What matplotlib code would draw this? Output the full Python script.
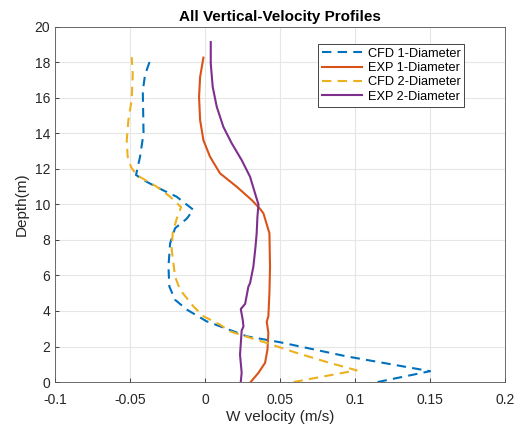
import matplotlib
matplotlib.use("Agg")
import matplotlib.pyplot as plt
import numpy as np

plt.rcParams["font.family"] = ["Liberation Sans", "DejaVu Sans"]

# CFD profiles (velocity, depth)
cfd1_w = [0.115, 0.150, 0.094, 0.050, 0.028, 0.001, -0.012, -0.020, -0.0238, -0.0244,
          -0.0233, -0.020, -0.0122, -0.0078, -0.019, -0.028, -0.039, -0.046, -0.0433,
          -0.041, -0.0415, -0.040, -0.0367]
cfd1_z = [0.0, 0.61, 1.45, 2.24, 2.57, 3.42, 4.07, 4.63, 5.38, 6.5,
          7.8, 8.66, 9.2, 9.7, 10.44, 10.8, 11.28, 11.66, 12.7,
          14.0, 16.4, 17.3, 18.1]

cfd2_w = [0.059, 0.101, 0.083, 0.061, 0.041, 0.0167, 0.010, -0.001, -0.0078, -0.0167,
          -0.020, -0.0222, -0.0216, -0.0189, -0.016, -0.0233, -0.0322, -0.0456,
          -0.0493, -0.0516, -0.0522, -0.0511, -0.0489, -0.0482, -0.0489]
cfd2_z = [0.0, 0.66, 1.08, 1.64, 2.2, 2.85, 3.23, 3.7, 4.26, 5.2,
          5.94, 7.44, 8.38, 9.2, 9.85, 10.44, 11.0, 11.66,
          12.1, 12.7, 13.6, 14.75, 15.9, 17.37, 18.3]

# Measured profiles
exp1_w = [0.0304, 0.0356, 0.040, 0.0416, 0.0422, 0.0411, 0.0422, 0.0429, 0.0433, 0.0429,
          0.0389, 0.0367, 0.0311, 0.0211, 0.010, 0.0033, -0.0011, -0.0033, -0.004,
          -0.0033, -0.0011]
exp1_z = [0.0, 0.52, 1.08, 1.83, 2.76, 3.4, 3.7, 5.0, 6.5, 8.38,
          9.5, 9.75, 10.25, 11.0, 11.75, 12.69, 13.62, 14.75, 16.06,
          17.18, 18.27]

exp2_w = [0.0238, 0.0244, 0.0233, 0.0240, 0.0244, 0.0256, 0.0251, 0.0238, 0.0267, 0.0289,
          0.030, 0.0322, 0.0336, 0.0344, 0.0349, 0.0356, 0.0333, 0.030, 0.0244,
          0.0178, 0.0122, 0.0078, 0.0051, 0.0038, 0.0038]
exp2_z = [0.0, 0.52, 1.54, 2.39, 2.9, 3.13, 3.51, 4.11, 4.4, 5.38,
          5.57, 6.5, 7.6, 8.38, 9.3, 10.0, 10.63, 11.56, 12.5,
          13.44, 14.37, 15.5, 16.62, 17.93, 19.15]

x_ticks = [-0.1, -0.05, 0, 0.05, 0.1, 0.15, 0.2]
x_labels = ["-0.1", "-0.05", "0", "0.05", "0.1", "0.15", "0.2"]
y_ticks = list(range(0, 21, 2))

fig = plt.figure(figsize=(5.24, 4.32), dpi=100)
ax = fig.add_axes([0.105, 0.1157, 0.859, 0.822])

lw = 1.5
ax.plot(cfd1_w, cfd1_z, "--", color="#0072BD", lw=lw, dashes=(4.5, 3), label="CFD 1-Diameter")
ax.plot(exp1_w, exp1_z, "-", color="#D95319", lw=lw, label="EXP 1-Diameter")
ax.plot(cfd2_w, cfd2_z, "--", color="#EDB120", lw=lw, dashes=(4.5, 3), label="CFD 2-Diameter")
ax.plot(exp2_w, exp2_z, "-", color="#7E2F8E", lw=lw, label="EXP 2-Diameter")

ax.set_xlim(-0.1, 0.2)
ax.set_ylim(0, 20)
ax.set_xticks(x_ticks)
ax.set_xticklabels(x_labels)
ax.set_yticks(y_ticks)
ax.grid(True, color="#e6e6e6", lw=0.8)
ax.set_axisbelow(True)
ax.tick_params(direction="in", length=3, colors="#262626", labelsize=10, width=0.6)
ax.tick_params(axis="x", pad=8)
for s in ax.spines.values():
    s.set_color("#555555")
    s.set_linewidth(0.6)

ax.set_title("All Vertical-Velocity Profiles", fontsize=11, fontweight="bold", color="#000000", pad=4)
ax.set_xlabel("W velocity (m/s)", fontsize=11, color="#262626", labelpad=2)
ax.set_ylabel("Depth(m)", fontsize=11, color="#262626")

leg = ax.legend(loc="upper right", bbox_to_anchor=(0.909, 0.952), fontsize=9.2,
                fancybox=False, framealpha=1, edgecolor="#262626",
                handlelength=3.2, borderpad=0.3, labelspacing=0.18, handletextpad=0.4,
                borderaxespad=0)
leg.get_frame().set_linewidth(0.6)

fig.savefig("out.png", dpi=100)
